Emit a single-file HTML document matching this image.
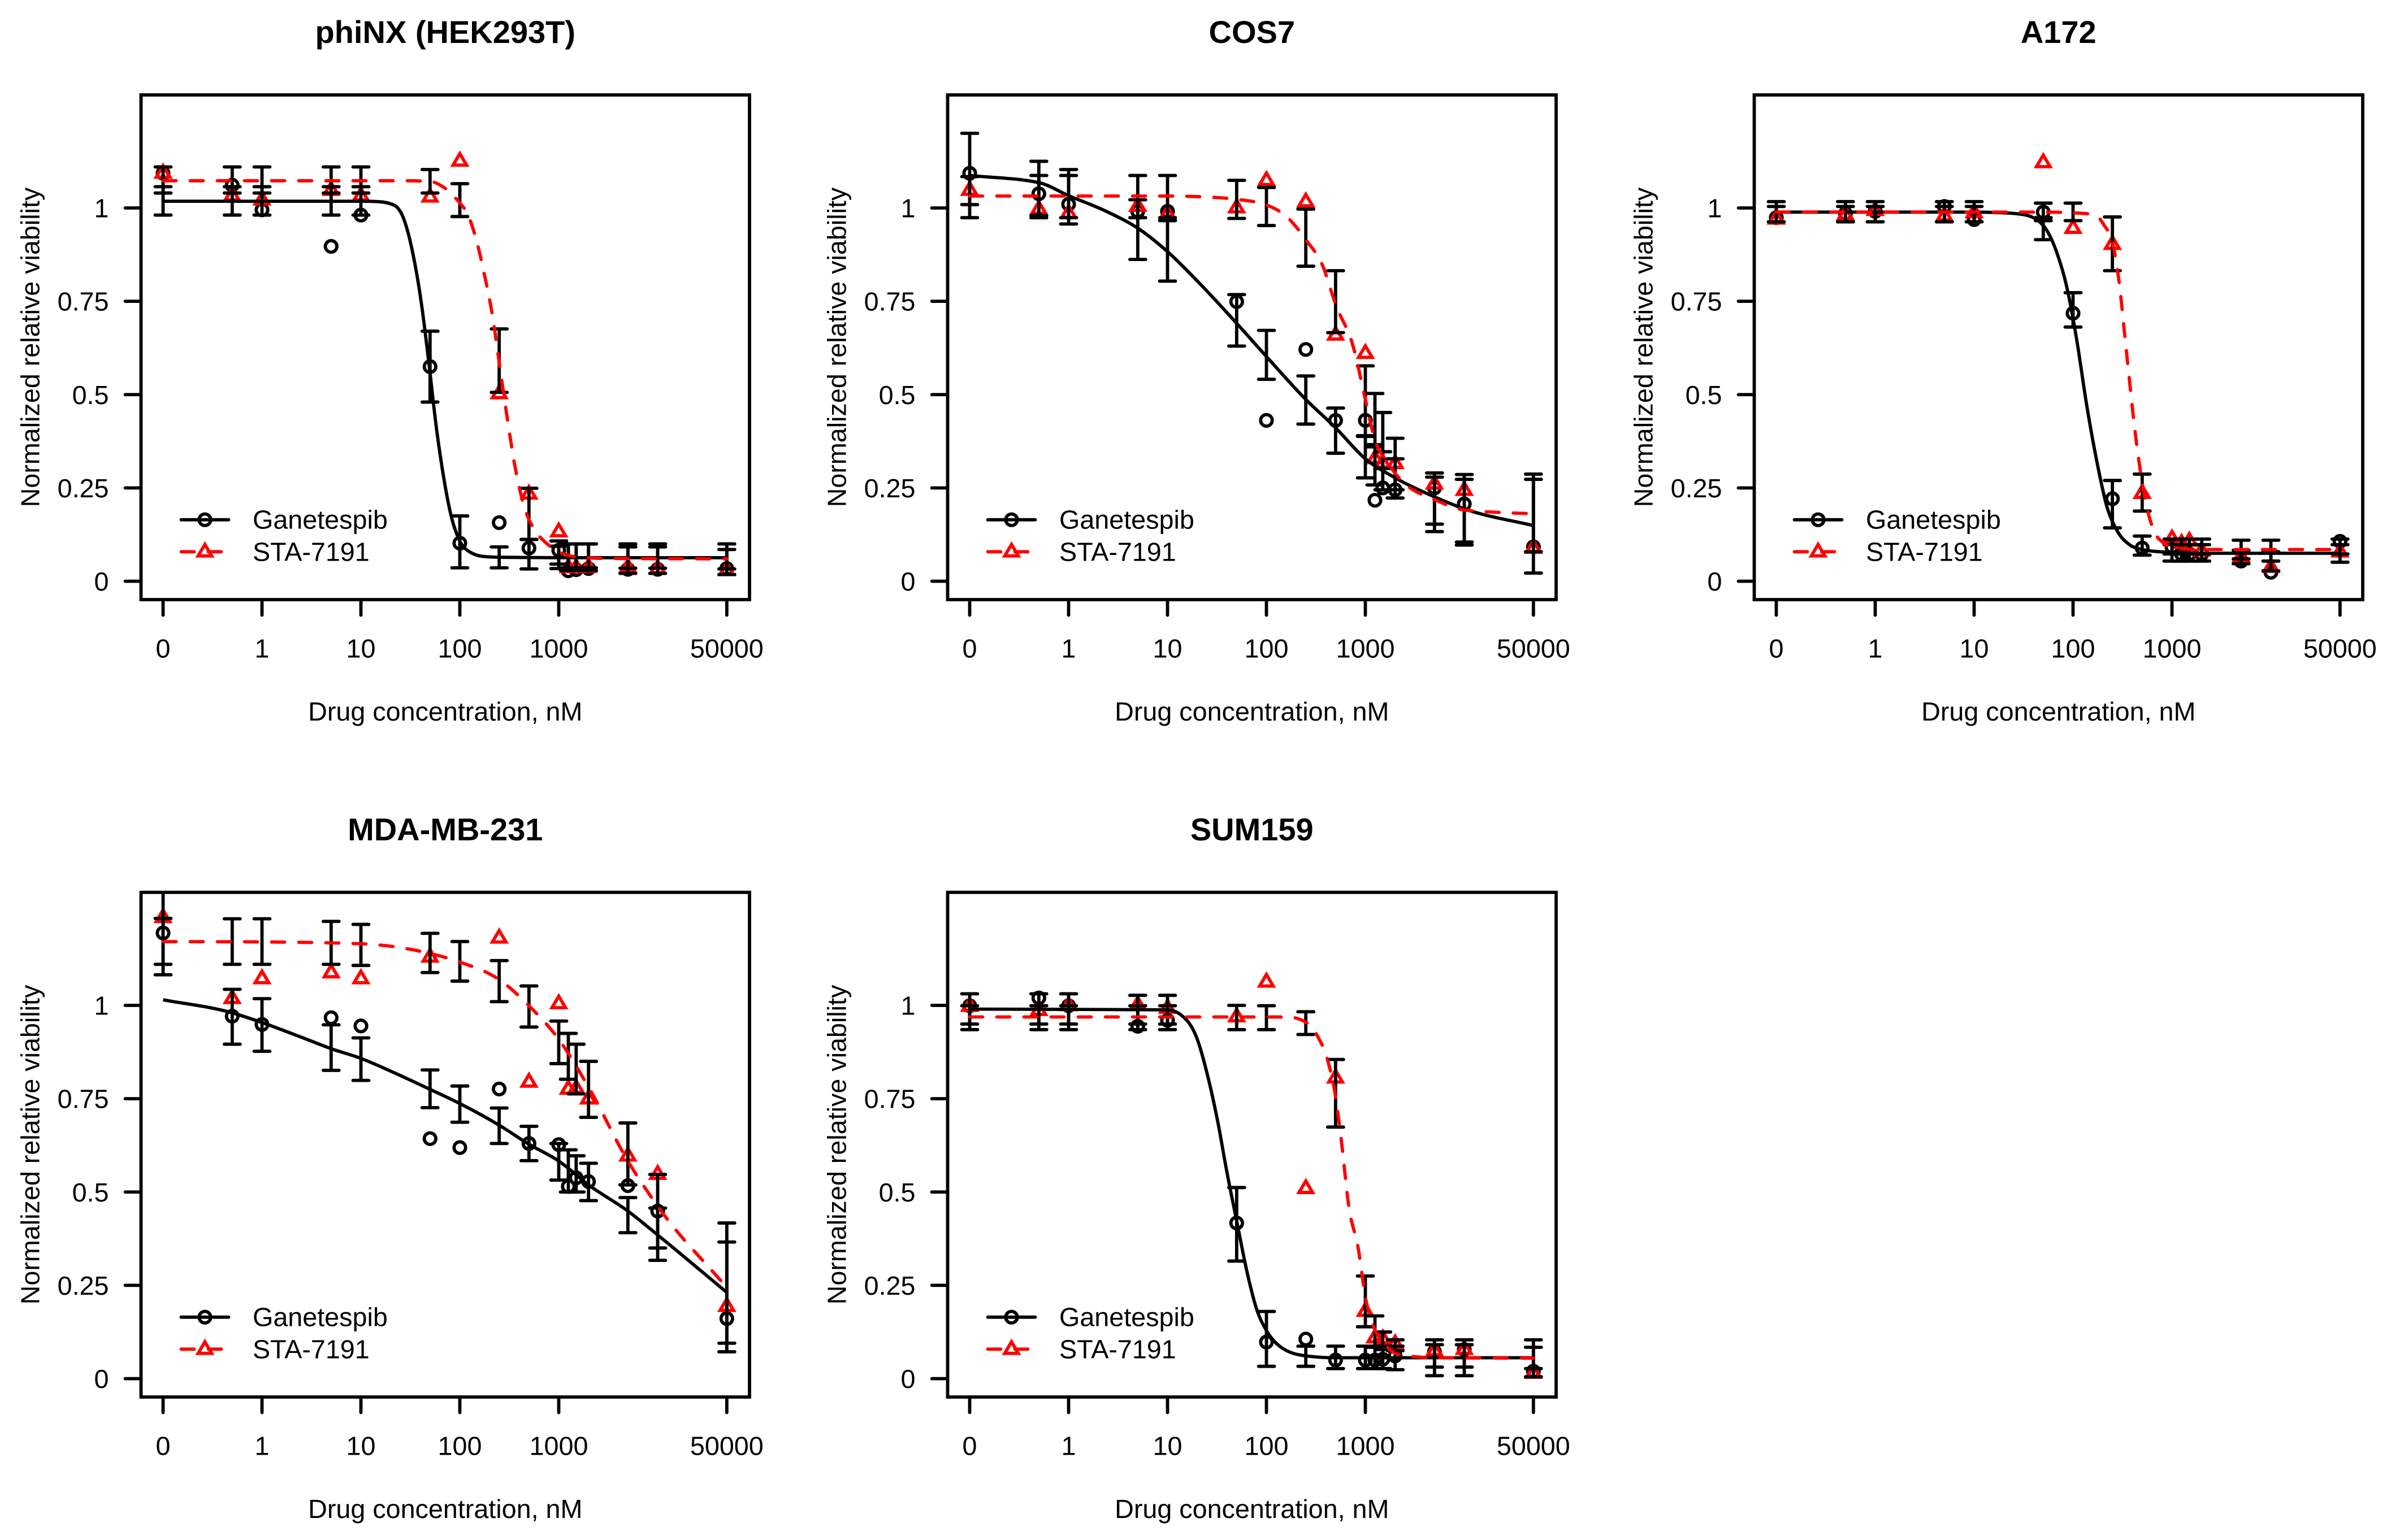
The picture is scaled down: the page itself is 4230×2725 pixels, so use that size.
<!DOCTYPE html>
<html lang="en">
<head>
<meta charset="utf-8">
<title>Drug dose-response curves</title>
<style>
html,body{margin:0;padding:0;background:#fff;}
svg{display:block;}
text{font-family:"Liberation Sans",Arial,sans-serif;fill:#000;}
</style>
</head>
<body>
<svg id="chart" xmlns="http://www.w3.org/2000/svg" width="4230" height="2725" viewBox="0 0 4230 2725"></svg>
<script>
const doses = [0,0.5,1,5,10,50,100,250,500,1000,1250,1500,2000,5000,10000,50000];
const xTickValues = [0,1,10,100,1000,50000];
const xTickLabels = ["0","1","10","100","1000","50000"];
const yTickValues = [0,0.25,0.5,0.75,1];
const yTickLabels = ["0","0.25","0.5","0.75","1"];
const seriesNames = ["Ganetespib","STA-7191"];
const xAxisTitle = "Drug concentration, nM";
const yAxisTitle = "Normalized relative viability";

const phinxGanPoints = [1.093,1.061,.995,.897,.981,.575,.102,.157,.089,.083,.028,.031,.034,.032,.032,.034];
const phinxStaPoints = [1.097,1.036,1.025,1.051,1.036,1.033,1.129,.506,.237,.136,.04,.04,.041,.041,.037,.032];
const phinxGanLow = [.981,.981,.981,.981,.981,.48,.036,.036,.033,.034,.029,.029,.029,.021,.021,.018];
const phinxGanHigh = [1.057,1.057,1.057,1.057,1.057,.67,.175,.092,.112,.094,.1,.1,.1,.092,.092,.085];
const phinxStaLow = [1.04,1.04,1.04,1.04,1.04,1.04,.977,.506,.112,.046,.036,.036,.036,.035,.035,.033];
const phinxStaHigh = [1.11,1.11,1.11,1.11,1.11,1.103,1.065,.676,.249,.108,.1,.1,.1,.1,.1,.1];
const phinxGanCurveDose = [0,10,15,21.5,27,34,41,49,58,69.5,83,99,125,178,284,1000,50000];
const phinxGanCurve = [1.018,1.018,1.017,1.008,.972,.87,.742,.577,.41,.27,.168,.11,.079,.066,.064,.063,.063];
const phinxStaCurveDose = [0,10,27,50,69,93,125,149,178,212,253,302,360,455,575,728,1000,1450,3000,50000];
const phinxStaCurve = [1.073,1.073,1.073,1.071,1.055,1.023,.972,.908,.819,.717,.577,.436,.309,.194,.136,.105,.079,.066,.061,.06];

const cosGanPoints = [1.093,1.038,1.01,.991,.991,.749,.431,.621,.431,.431,.217,.25,.245,.25,.207,.092];
const cosStaPoints = [1.051,1.0,.989,1.008,.987,1.004,1.077,1.02,.663,.614,.332,.32,.319,.264,.247,.092];
const cosGanLow = [1.009,.98,.957,.862,.804,.63,.541,.421,.343,.277,.258,.245,.223,.133,.097,.022];
const cosGanHigh = [1.2,1.125,1.103,1.022,.966,.768,.672,.55,.464,.388,.366,.347,.328,.29,.286,.287];
const cosStaLow = [.974,.974,.974,.974,.974,.972,.953,.844,.666,.39,.36,.302,.245,.153,.105,.079];
const cosStaHigh = [1.084,1.087,1.087,1.087,1.087,1.074,1.055,.997,.832,.577,.503,.452,.383,.279,.273,.273];
const cosGanCurveDose = [0,.5,1,2.4,5,10,22,50,100,250,500,1000,2000,5000,10000,50000];
const cosGanCurve = [1.087,1.068,1.033,.991,.946,.883,.793,.691,.602,.487,.411,.328,.277,.226,.194,.149];
const cosStaCurveDose = [0,1,10,22,50,100,164,250,372,500,755,1000,1230,1700,2450,5000,10000,24500,50000];
const cosStaCurve = [1.032,1.032,1.032,1.03,1.023,1.008,.974,.915,.844,.742,.628,.487,.385,.315,.264,.219,.191,.184,.181];

const a172GanPoints = [.974,.985,.991,1.004,.969,.989,.718,.221,.089,.092,.073,.073,.073,.054,.024,.107];
const a172StaPoints = [.974,.985,.997,.982,.991,1.125,.949,.906,.239,.117,.105,.111,.085,.07,.041,.082];
const a172GanLow = [.963,.963,.963,.963,.963,.915,.681,.143,.07,.054,.054,.054,.054,.047,.028,.051];
const a172GanHigh = [1.017,1.017,1.017,1.017,1.017,1.013,.773,.27,.121,.098,.098,.098,.098,.083,.079,.098];
const a172StaLow = [.963,.963,.963,.963,.963,.966,.966,.832,.188,.073,.073,.073,.073,.06,.054,.073];
const a172StaHigh = [1.004,1.004,1.004,1.004,1.004,.974,1.013,.976,.287,.113,.113,.113,.113,.11,.11,.113];
const a172GanCurveDose = [0,10,20,32,50,68,86,109,137,174,220,278,372,500,755,2180,50000];
const a172GanCurve = [.989,.989,.987,.982,.953,.883,.791,.647,.474,.321,.2,.136,.098,.085,.079,.075,.075];
const a172StaCurveDose = [0,50,100,164,207,250,295,331,372,419,471,562,671,800,1010,1720,50000];
const a172StaCurve = [.989,.989,.987,.982,.953,.908,.793,.666,.538,.411,.309,.194,.13,.105,.092,.085,.085];

const mdaGanPoints = [1.194,.971,.949,.967,.945,.643,.619,.776,.63,.627,.515,.538,.528,.517,.449,.161];
const mdaStaPoints = [1.239,1.022,1.075,1.091,1.075,1.133,null,1.184,.798,1.008,.779,.781,.753,.6,.551,.197];
const mdaGanLow = [1.082,.896,.877,.826,.799,.726,.687,.63,.584,.532,.5,.5,.477,.391,.317,.072];
const mdaGanHigh = [1.233,1.043,1.018,.948,.913,.827,.784,.725,.676,.63,.613,.597,.577,.485,.457,.366];
const mdaStaLow = [1.11,1.11,1.11,1.11,1.107,1.088,1.065,1.01,.942,.844,.802,.763,.7,.519,.35,.095];
const mdaStaHigh = [1.34,1.232,1.232,1.225,1.217,1.193,1.171,1.12,1.052,.958,.925,.896,.85,.685,.547,.417];
const mdaGanCurveDose = [0,.5,1,2.6,5,10,21.5,50,100,250,500,1000,2000,5000,10000,50000];
const mdaGanCurve = [1.015,.98,.954,.913,.884,.858,.82,.775,.737,.679,.628,.583,.519,.449,.385,.231];
const mdaStaCurveDose = [0,1,10,50,100,250,500,1000,2000,5000,10000,50000];
const mdaStaCurve = [1.171,1.17,1.165,1.139,1.116,1.069,.999,.909,.781,.583,.462,.244];

const sumGanPoints = [.999,1.02,.999,.944,.96,.417,.098,.106,.05,.05,.05,.052,.061,.072,.078,.02];
const sumStaPoints = [1.001,.99,1.003,1.005,.996,.973,1.066,.513,.809,.184,.113,.11,.097,.078,.082,.018];
const sumGanLow = [.95,.95,.95,.95,.95,.315,.033,.033,.027,.027,.027,.027,.024,.008,.008,.005];
const sumGanHigh = [1.031,1.031,1.031,1.027,1.027,.512,.18,.087,.087,.087,.087,.087,.087,.104,.104,.084];
const sumStaLow = [.935,.935,.935,.935,.935,.935,.935,.922,.674,.139,.084,.078,.075,.031,.031,.027];
const sumStaHigh = [.999,.999,.999,.999,.999,1.0,.999,.983,.855,.275,.168,.125,.104,.091,.091,.104];
const sumGanCurveDose = [0,10,13.9,20,25,32,40,50,64,81,100,146,250,500,50000];
const sumGanCurve = [.99,.988,.973,.909,.82,.692,.551,.423,.283,.18,.129,.081,.061,.056,.056];
const sumStaCurveDose = [0,164,250,331,417,500,570,680,850,1000,1200,1520,2180,5000,50000];
const sumStaCurve = [.969,.969,.955,.916,.852,.756,.641,.462,.347,.219,.142,.097,.065,.056,.055];

const panels = [
 {title:"phiNX (HEK293T)",slug:"phinx",gp:phinxGanPoints,sp:phinxStaPoints,gl:phinxGanLow,gh:phinxGanHigh,sl:phinxStaLow,sh:phinxStaHigh,gcd:phinxGanCurveDose,gc:phinxGanCurve,scd:phinxStaCurveDose,sc:phinxStaCurve},
 {title:"COS7",slug:"cos7",gp:cosGanPoints,sp:cosStaPoints,gl:cosGanLow,gh:cosGanHigh,sl:cosStaLow,sh:cosStaHigh,gcd:cosGanCurveDose,gc:cosGanCurve,scd:cosStaCurveDose,sc:cosStaCurve},
 {title:"A172",slug:"a172",gp:a172GanPoints,sp:a172StaPoints,gl:a172GanLow,gh:a172GanHigh,sl:a172StaLow,sh:a172StaHigh,gcd:a172GanCurveDose,gc:a172GanCurve,scd:a172StaCurveDose,sc:a172StaCurve},
 {title:"MDA-MB-231",slug:"mda-mb-231",gp:mdaGanPoints,sp:mdaStaPoints,gl:mdaGanLow,gh:mdaGanHigh,sl:mdaStaLow,sh:mdaStaHigh,gcd:mdaGanCurveDose,gc:mdaGanCurve,scd:mdaStaCurveDose,sc:mdaStaCurve},
 {title:"SUM159",slug:"sum159",gp:sumGanPoints,sp:sumStaPoints,gl:sumGanLow,gh:sumGanHigh,sl:sumStaLow,sh:sumStaHigh,gcd:sumGanCurveDose,gc:sumGanCurve,scd:sumStaCurveDose,sc:sumStaCurve}
];

const NS = "http://www.w3.org/2000/svg";
const svg = document.getElementById("chart");
const RED = "#ff0000";
const BLACK = "#000000";
const LW = 5.8;
const DECADE = 175;
const UNIT = 660.5;

function el(tag, attrs, parent){
  const e = document.createElementNS(NS, tag);
  for (const k in attrs) e.setAttribute(k, attrs[k]);
  parent.appendChild(e);
  return e;
}

function smoothPath(pts){
  const n = pts.length;
  const h = [], s = [], t = [];
  for (let i = 0; i < n - 1; i++){
    h[i] = pts[i+1][0] - pts[i][0];
    s[i] = (pts[i+1][1] - pts[i][1]) / h[i];
  }
  t[0] = s[0]; t[n-1] = s[n-2];
  for (let i = 1; i < n - 1; i++){
    const p = (s[i-1]*h[i] + s[i]*h[i-1]) / (h[i-1] + h[i]);
    t[i] = (Math.sign(s[i-1]) + Math.sign(s[i])) * Math.min(Math.abs(s[i-1]), Math.abs(s[i]), 0.5*Math.abs(p));
  }
  let d = "M" + pts[0][0].toFixed(1) + " " + pts[0][1].toFixed(1);
  for (let i = 0; i < n - 1; i++){
    const c = h[i] / 3;
    d += "C" + (pts[i][0]+c).toFixed(1) + " " + (pts[i][1]+c*t[i]).toFixed(1) + " " +
         (pts[i+1][0]-c).toFixed(1) + " " + (pts[i+1][1]-c*t[i+1]).toFixed(1) + " " +
         pts[i+1][0].toFixed(1) + " " + pts[i+1][1].toFixed(1);
  }
  return d;
}

function trianglePath(x, y){
  return "M" + x + " " + (y-11) + "L" + (x+12) + " " + (y+9.4) + "L" + (x-12) + " " + (y+9.4) + "Z";
}

panels.forEach(function(panel, index){
  const col = index % 3;
  const row = Math.floor(index / 3);
  const x0 = 288.5 + col * 1427;
  const y0 = 1028.5 + row * 1411;
  const left = x0 - 39, right = x0 + 1037.5;
  const top = y0 - 860.5, bottom = y0 + 32.5;
  const midX = (left + right) / 2, midY = (top + bottom) / 2;
  const xPos = function(dose){ return x0 + DECADE * (dose === 0 ? 0 : Math.log10(dose) + 1); };
  const yPos = function(v){ return y0 - UNIT * v; };

  const g = el("g", {}, svg);
  
  

  const clip = el("clipPath", {id: "clip-" + index}, g);
  el("rect", {x: left, y: top, width: right - left, height: bottom - top}, clip);

  const title = el("text", {x: midX, y: top - 92, "text-anchor": "middle", "font-size": 56, "font-weight": "bold"}, g);
  title.textContent = panel.title;
  
  

  const xTitle = el("text", {x: midX, y: y0 + 246.5, "text-anchor": "middle", "font-size": 46.7}, g);
  xTitle.textContent = xAxisTitle;
  
  

  const yTitle = el("text", {transform: "translate(" + (left - 180) + " " + midY + ") rotate(-90)", "text-anchor": "middle", "font-size": 46.7}, g);
  yTitle.textContent = yAxisTitle;
  
  

  xTickValues.forEach(function(v, i){
    const tick = el("line", {x1: xPos(v), x2: xPos(v), y1: bottom, y2: bottom + 27.5, stroke: BLACK, "stroke-width": LW, "stroke-linecap": "round"}, g);
    
    
    const label = el("text", {x: xPos(v), y: y0 + 135, "text-anchor": "middle", "font-size": 46.7}, g);
    label.textContent = xTickLabels[i];
    
    
  });

  yTickValues.forEach(function(v, i){
    const tick = el("line", {x1: left - 28, x2: left, y1: yPos(v), y2: yPos(v), stroke: BLACK, "stroke-width": LW, "stroke-linecap": "round"}, g);
    
    
    const label = el("text", {x: left - 57, y: yPos(v) + 16.5, "text-anchor": "end", "font-size": 46.7}, g);
    label.textContent = yTickLabels[i];
    
    
  });

  const marks = el("g", {"clip-path": "url(#clip-" + index + ")"}, g);
  
  

  panel.gp.forEach(function(v, i){
    const c = el("circle", {cx: xPos(doses[i]), cy: yPos(v), r: 10.2, fill: "none", stroke: BLACK, "stroke-width": LW}, marks);
    
    
  });

  panel.sp.forEach(function(v, i){
    if (v === null) return;
    const t = el("path", {d: trianglePath(xPos(doses[i]), yPos(v)), fill: "none", stroke: RED, "stroke-width": LW}, marks);
    
    
  });

  const ganPts = panel.gcd.map(function(d, i){ return [xPos(d), yPos(panel.gc[i])]; });
  const ganLine = el("path", {d: smoothPath(ganPts), fill: "none", stroke: BLACK, "stroke-width": LW}, marks);
  
  

  [[panel.gl, panel.gh, "ganetespib"], [panel.sl, panel.sh, "sta-7191"]].forEach(function(set){
    doses.forEach(function(dose, i){
      const x = xPos(dose), yl = yPos(set[0][i]), yh = yPos(set[1][i]);
      const d = "M" + x + " " + yl + "V" + yh + "M" + (x-14) + " " + yh + "H" + (x+14) + "M" + (x-14) + " " + yl + "H" + (x+14);
      const bar = el("path", {d: d, fill: "none", stroke: BLACK, "stroke-width": LW, "stroke-linecap": "round"}, marks);
      
      
    });
  });

  const staPts = panel.scd.map(function(d, i){ return [xPos(d), yPos(panel.sc[i])]; });
  const staLine = el("path", {d: smoothPath(staPts), fill: "none", stroke: RED, "stroke-width": LW, "stroke-linecap": "round", "stroke-dasharray": "23 25"}, marks);
  
  

  const box = el("rect", {x: left, y: top, width: right - left, height: bottom - top, fill: "none", stroke: BLACK, "stroke-width": LW}, g);
  
  

  const legend = el("g", {}, g);
  
  
  const lx0 = left + 71, lx1 = left + 155, lm = left + 113, ltx = left + 197.5;
  const ly0 = y0 - 108.8, ly1 = y0 - 52.2;

  const gl = el("line", {x1: lx0, x2: lx1, y1: ly0, y2: ly0, stroke: BLACK, "stroke-width": LW, "stroke-linecap": "round"}, legend);
  
  
  const gm = el("circle", {cx: lm, cy: ly0, r: 10.2, fill: "none", stroke: BLACK, "stroke-width": LW}, legend);
  
  
  const gt = el("text", {x: ltx, y: ly0 + 16, "font-size": 46.7}, legend);
  gt.textContent = seriesNames[0];
  
  

  const sl = el("line", {x1: lx0, x2: lx1, y1: ly1, y2: ly1, stroke: RED, "stroke-width": LW, "stroke-linecap": "round", "stroke-dasharray": "23 25"}, legend);
  
  
  const sm = el("path", {d: trianglePath(lm, ly1 - 2), fill: "none", stroke: RED, "stroke-width": LW}, legend);
  
  
  const st = el("text", {x: ltx, y: ly1 + 16, "font-size": 46.7}, legend);
  st.textContent = seriesNames[1];
  
  
});
</script>
</body>
</html>
